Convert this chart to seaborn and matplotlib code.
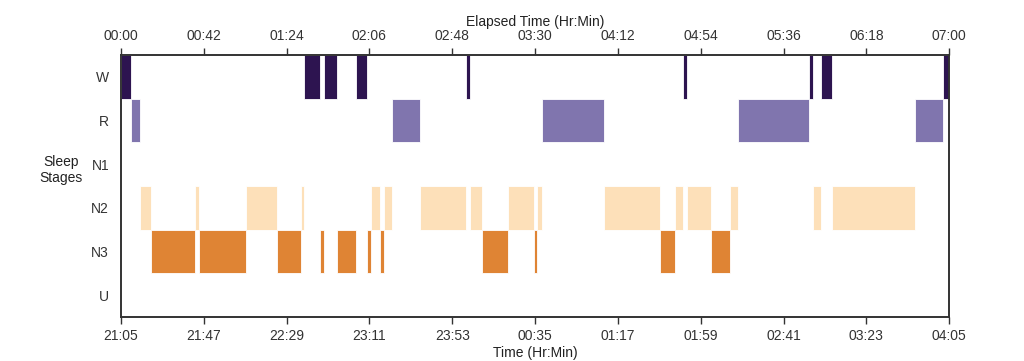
import numpy as np
import pandas as pd
import matplotlib
matplotlib.use("Agg")
import matplotlib.pyplot as plt
import seaborn as sns

# stage rows, top to bottom
STAGES = ["W", "R", "N1", "N2", "N3", "U"]

# segment boundaries in minutes since lights off, one stage per segment
bounds = [0, 5, 9.5, 15.5, 37.5, 39.5, 63.5, 79, 91.5, 93, 101, 103, 109.5,
          119, 125, 127, 131.5, 133.5, 137.5, 151.5, 175, 177, 183, 196.5,
          209.5, 211, 213.5, 245, 273.5, 281, 285, 287, 299, 309, 313, 349,
          351, 355, 360.5, 402.5, 417, 420]
stages = ["W", "R", "N2", "N3", "N2", "N3", "N2", "N3", "N2", "W",
          "N3", "W", "N3", "W", "N3", "N2", "N3", "N2", "R", "N2",
          "W", "N2", "N3", "N2", "N3", "N2", "R", "N2", "N3", "N2",
          "W", "N2", "N3", "N2", "R", "W", "N2", "W", "N2", "R",
          "W"]

tick_minutes = [0, 42, 84, 126, 168, 210, 252, 294, 336, 378, 420]
elapsed_labels = ["00:00", "00:42", "01:24", "02:06", "02:48", "03:30",
                  "04:12", "04:54", "05:36", "06:18", "07:00"]
clock_labels = ["21:05", "21:47", "22:29", "23:11", "23:53", "00:35",
                "01:17", "01:59", "02:41", "03:23", "04:05"]

df = pd.DataFrame({"start": bounds[:-1], "end": bounds[1:], "stage": stages})
df["dur"] = df["end"] - df["start"]
df["row"] = df["stage"].map({s: i for i, s in enumerate(STAGES)})

sns.set_theme(style="ticks")
plt.rcParams["font.family"] = ["Liberation Sans", "DejaVu Sans"]

# PuOr-like stage colours
colors = {"W": "#2d1450", "R": "#8075ae", "N1": "#fdb863",
          "N2": "#fde0b9", "N3": "#df8434", "U": "#f7f7f7"}

fig = plt.figure(figsize=(10.24, 3.61), dpi=100)
ax = fig.add_axes([0.118, 0.122, 0.809, 0.726])

for stg, grp in df.groupby("stage"):
    ax.barh(grp["row"], grp["dur"], left=grp["start"], height=1.0,
            color=colors[stg], edgecolor="white", linewidth=0.6)

ax.set_xlim(0, 420)
ax.set_ylim(5.5, -0.5)
ax.set_yticks(range(len(STAGES)))
ax.set_yticklabels(STAGES, fontsize=10, color="#333333")
ax.tick_params(axis="y", length=0, pad=8.5)
ax.set_ylabel("Sleep\nStages", rotation=0, fontsize=10, color="#222222",
              va="center", ha="center")
ax.yaxis.set_label_coords(-0.0725, 0.561)

ax.set_xticks(tick_minutes)
ax.set_xticklabels(clock_labels, fontsize=10, color="#333333")
ax.tick_params(axis="x", length=5, width=1.0, colors="#333333", labelcolor="#333333")
ax.set_xlabel("Time (Hr:Min)", fontsize=10, color="#222222", labelpad=2)

top = ax.twiny()
top.set_xlim(ax.get_xlim())
top.set_xticks(tick_minutes)
top.set_xticklabels(elapsed_labels, fontsize=10, color="#333333")
top.tick_params(axis="x", length=5, width=1.0, colors="#333333", labelcolor="#333333")
top.set_xlabel("Elapsed Time (Hr:Min)", fontsize=10, color="#222222", labelpad=2)

for a in (ax, top):
    for sp in a.spines.values():
        sp.set_visible(True)
        sp.set_color("#333333")
        sp.set_linewidth(1.2)

fig.savefig("out.png", dpi=100)
